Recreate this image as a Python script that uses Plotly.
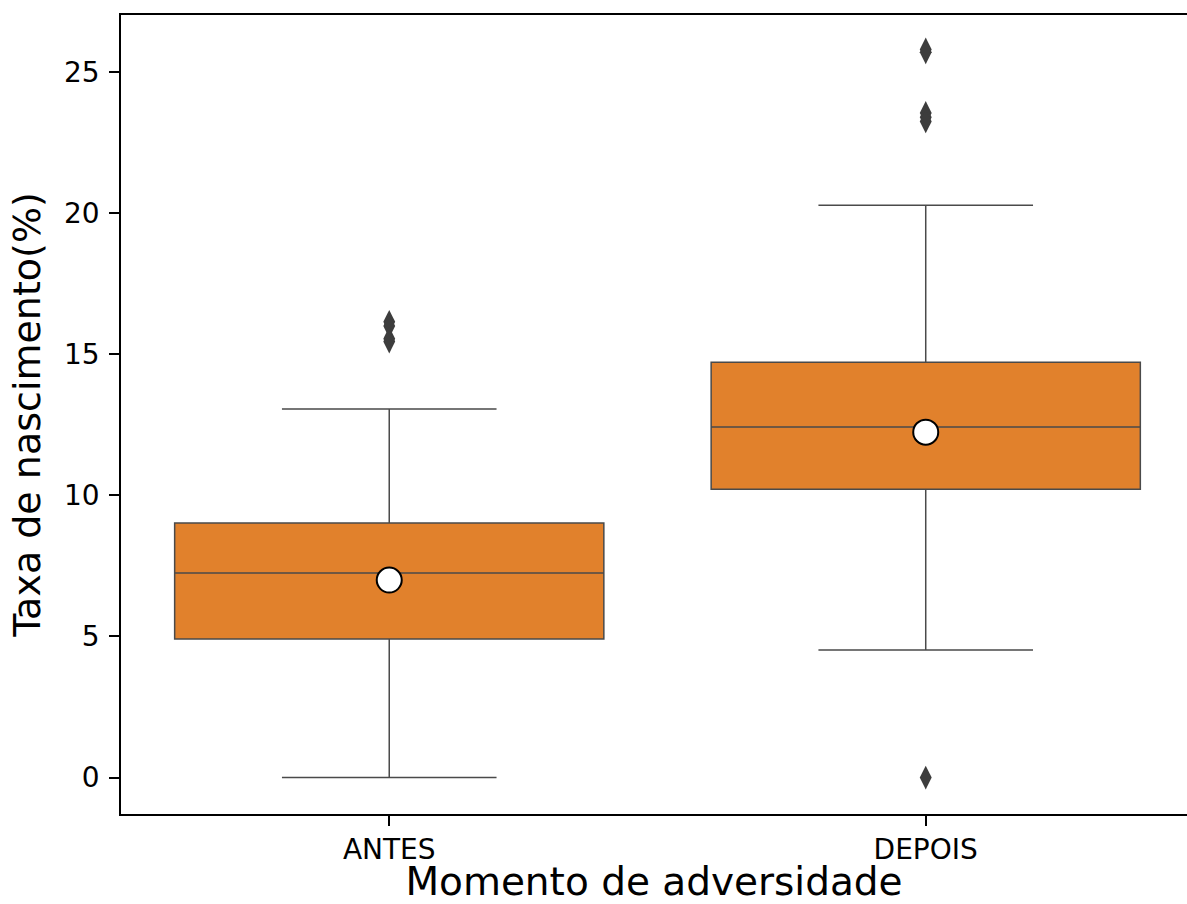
import plotly.graph_objects as go

categories = ["ANTES", "DEPOIS"]
q1 = [4.91, 10.22]
medians = [7.25, 12.42]
q3 = [9.02, 14.72]
lower_whisker = [0.0, 4.52]
upper_whisker = [13.06, 20.28]
means = [7.0, 12.24]
outliers_antes = [16.15, 16.0, 15.55, 15.45]
outliers_depois = [25.8, 25.7, 23.55, 23.4, 23.25, 0.0]

ORANGE = "#e1812c"
LINE = "#4a4a4a"
FONT = "DejaVu Sans"

positions = list(range(len(categories)))

fig = go.Figure()
fig.add_trace(go.Box(
    x=positions, q1=q1, median=medians, q3=q3,
    lowerfence=lower_whisker, upperfence=upper_whisker,
    width=0.8, whiskerwidth=0.5, boxpoints=False,
    fillcolor=ORANGE, line=dict(color=LINE, width=1.5),
    showlegend=False, hoverinfo="skip",
))

out_x = [0] * len(outliers_antes) + [1] * len(outliers_depois)
out_y = outliers_antes + outliers_depois
fig.add_trace(go.Scatter(
    x=out_x, y=out_y, mode="markers",
    marker=dict(symbol="diamond-tall", size=17, color="#3d3d3d",
                line=dict(width=0)),
    showlegend=False,
))
fig.add_trace(go.Scatter(
    x=positions, y=means, mode="markers",
    marker=dict(symbol="circle", size=25, color="white",
                line=dict(color="black", width=2)),
    showlegend=False,
))

fig.update_layout(
    width=1187, height=904,
    margin=dict(l=121, r=0, t=15, b=90),
    paper_bgcolor="white", plot_bgcolor="white",
    font=dict(family=FONT, color="black", size=28),
    xaxis=dict(
        range=[-0.5, 1.487], tickmode="array", tickvals=positions,
        ticktext=categories, showgrid=False, zeroline=False,
        showline=True, linecolor="black", linewidth=1.5, mirror=True,
        ticks="outside", ticklen=10, tickwidth=1.5, tickcolor="black",
        tickfont=dict(size=28), automargin=False,
        title=dict(text="Momento de adversidade", font=dict(size=39), standoff=24),
    ),
    yaxis=dict(
        range=[-1.29, 27.02], tickmode="array", tickvals=[0, 5, 10, 15, 20, 25],
        showgrid=False, zeroline=False,
        showline=True, linecolor="black", linewidth=1.5, mirror=False,
        ticks="outside", ticklen=10, tickwidth=1.5, tickcolor="black",
        tickfont=dict(size=28), ticklabelstandoff=4, automargin=False,
        title=dict(text="Taxa de nascimento(%)", font=dict(size=38), standoff=12),
    ),
)

fig.write_html(
    "out.html",
    config={"displayModeBar": False},
    post_script=(
        "document.documentElement.style.overflow='hidden';"
        "document.body.style.margin='0';"
        "document.body.style.overflow='hidden';"
    ),
)
